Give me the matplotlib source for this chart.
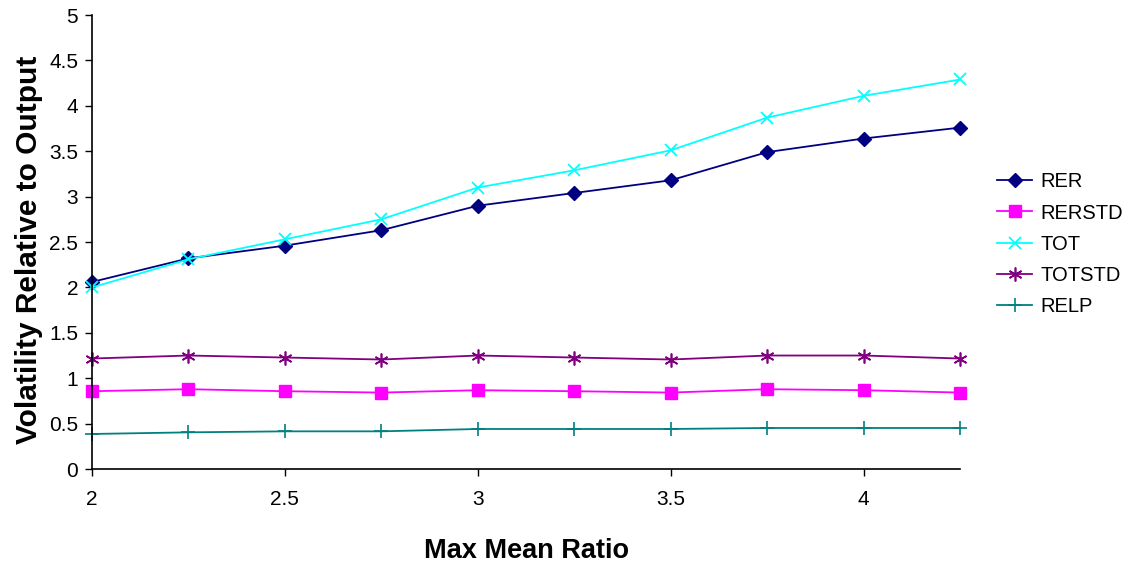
import numpy as np
import matplotlib.pyplot as plt

plt.rcParams['font.family'] = ['Liberation Sans', 'DejaVu Sans']

ratio = [2.0, 2.25, 2.5, 2.75, 3.0, 3.25, 3.5, 3.75, 4.0, 4.25]
rer = [2.06, 2.32, 2.46, 2.63, 2.90, 3.04, 3.18, 3.49, 3.64, 3.76]
rerstd = [0.857, 0.879, 0.857, 0.842, 0.868, 0.857, 0.842, 0.879, 0.868, 0.842]
tot = [2.00, 2.31, 2.53, 2.75, 3.10, 3.29, 3.51, 3.87, 4.11, 4.29]
totstd = [1.217, 1.25, 1.228, 1.206, 1.25, 1.228, 1.206, 1.25, 1.25, 1.217]
relp = [0.386, 0.404, 0.415, 0.415, 0.441, 0.441, 0.441, 0.452, 0.452, 0.452]

fig = plt.figure(figsize=(11.33, 5.69), dpi=100)
ax = fig.add_axes([0.0812, 0.1757, 0.7662, 0.7979])

ax.plot(ratio, rer, color='#000080', marker='D', markersize=7, lw=1.3, label='RER', clip_on=False)
ax.plot(ratio, rerstd, color='#FF00FF', marker='s', markersize=9, lw=1.3, label='RERSTD', clip_on=False)
ax.plot(ratio, tot, color='#00FFFF', marker='x', markersize=9, mew=1.3, lw=1.3, label='TOT', clip_on=False)
ax.plot(ratio, totstd, color='#800080', marker=(6, 2, 0), markersize=10, mew=1.2, lw=1.3, label='TOTSTD', clip_on=False)
ax.plot(ratio, relp, color='#008080', marker='+', markersize=10, mew=1.2, lw=1.3, label='RELP', clip_on=False)

ax.set_xlim(2, 4.25)
ax.set_ylim(0, 5)
ax.set_xticks([2, 2.5, 3, 3.5, 4])
ax.set_xticklabels(['2', '2.5', '3', '3.5', '4'])
ax.set_yticks(np.arange(0, 5.01, 0.5))
ax.set_yticklabels(['0', '0.5', '1', '1.5', '2', '2.5', '3', '3.5', '4', '4.5', '5'])
ax.tick_params(direction='out', length=5, width=1, labelsize=15, pad=5)
ax.tick_params(axis='x', pad=10)
for s in ['top', 'right']:
    ax.spines[s].set_visible(False)
for s in ['left', 'bottom']:
    ax.spines[s].set_linewidth(1.2)

ax.set_xlabel('Max Mean Ratio', fontsize=19.5, fontweight='bold')
ax.set_ylabel('Volatility Relative to Output', fontsize=21.5, fontweight='bold')
ax.xaxis.set_label_coords(0.5, -0.152)
ax.yaxis.set_label_coords(-0.056, 0.482)

ax.legend(loc='center left', bbox_to_anchor=(0.88, 0.571), bbox_transform=fig.transFigure,
          frameon=False, fontsize=14.5, borderpad=0, borderaxespad=0,
          handlelength=1.75, handletextpad=0.4, labelspacing=0.6)

fig.savefig('out.png', dpi=100)
